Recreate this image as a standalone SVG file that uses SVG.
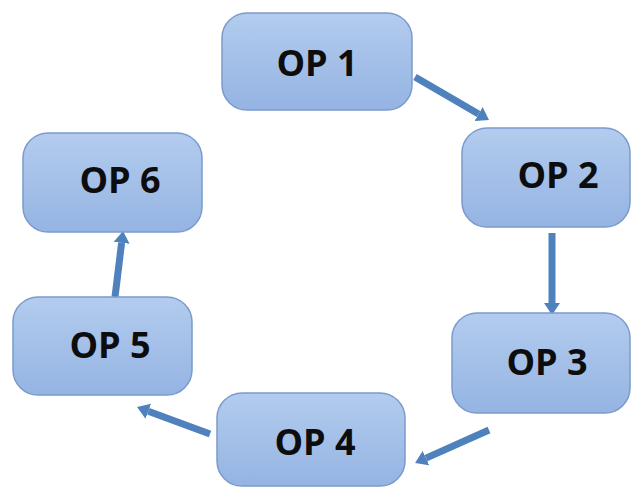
<svg xmlns="http://www.w3.org/2000/svg" width="634" height="487" viewBox="0 0 634 487">
<style>
.box{fill:url(#g);stroke:#7b9bcc;stroke-width:1.5}
.lbl{font-family:"Open Sans","Liberation Sans",sans-serif;font-weight:700;font-size:36px;fill:#0d0d0d;text-anchor:middle}
.arr{stroke:#4f81bd;stroke-width:7;fill:none;marker-end:url(#head)}
</style>
<defs>
<linearGradient id="g" x1="0" y1="0" x2="0" y2="1">
<stop offset="0" stop-color="#b3ccee"/>
<stop offset="1" stop-color="#95b4e3"/>
</linearGradient>
<marker id="head" markerUnits="userSpaceOnUse" viewBox="0 -8 12 16" markerWidth="12" markerHeight="16" refX="0" refY="0" orient="auto">
<path d="M0,-8 L12,0 L0,8 z" fill="#4f81bd"/>
</marker>
</defs>
<rect width="634" height="487" fill="#ffffff"/>
<g id="connectors">
<line class="arr" x1="415" y1="77" x2="478.6" y2="114"/>
<line class="arr" x1="552" y1="233" x2="552" y2="303"/>
<line class="arr" x1="489" y1="430" x2="426" y2="458.1"/>
<line class="arr" x1="210" y1="434" x2="148.3" y2="411.2"/>
<line class="arr" x1="115" y1="297" x2="121.6" y2="242.9"/>
</g>
<g id="op1"><rect class="box" x="222" y="13" width="190" height="97" rx="25"/><text class="lbl" x="317" y="76">OP 1</text></g>
<g id="op2"><rect class="box" x="462" y="128" width="168" height="99" rx="25"/><text class="lbl" x="558" y="188">OP 2</text></g>
<g id="op3"><rect class="box" x="452" y="313" width="178" height="100" rx="25"/><text class="lbl" x="547" y="375">OP 3</text></g>
<g id="op4"><rect class="box" x="217" y="393" width="188" height="93" rx="25"/><text class="lbl" x="315" y="455">OP 4</text></g>
<g id="op5"><rect class="box" x="13" y="297" width="179" height="98" rx="25"/><text class="lbl" x="110" y="358">OP 5</text></g>
<g id="op6"><rect class="box" x="23" y="133" width="179" height="99" rx="25"/><text class="lbl" x="120" y="193">OP 6</text></g>
</svg>
